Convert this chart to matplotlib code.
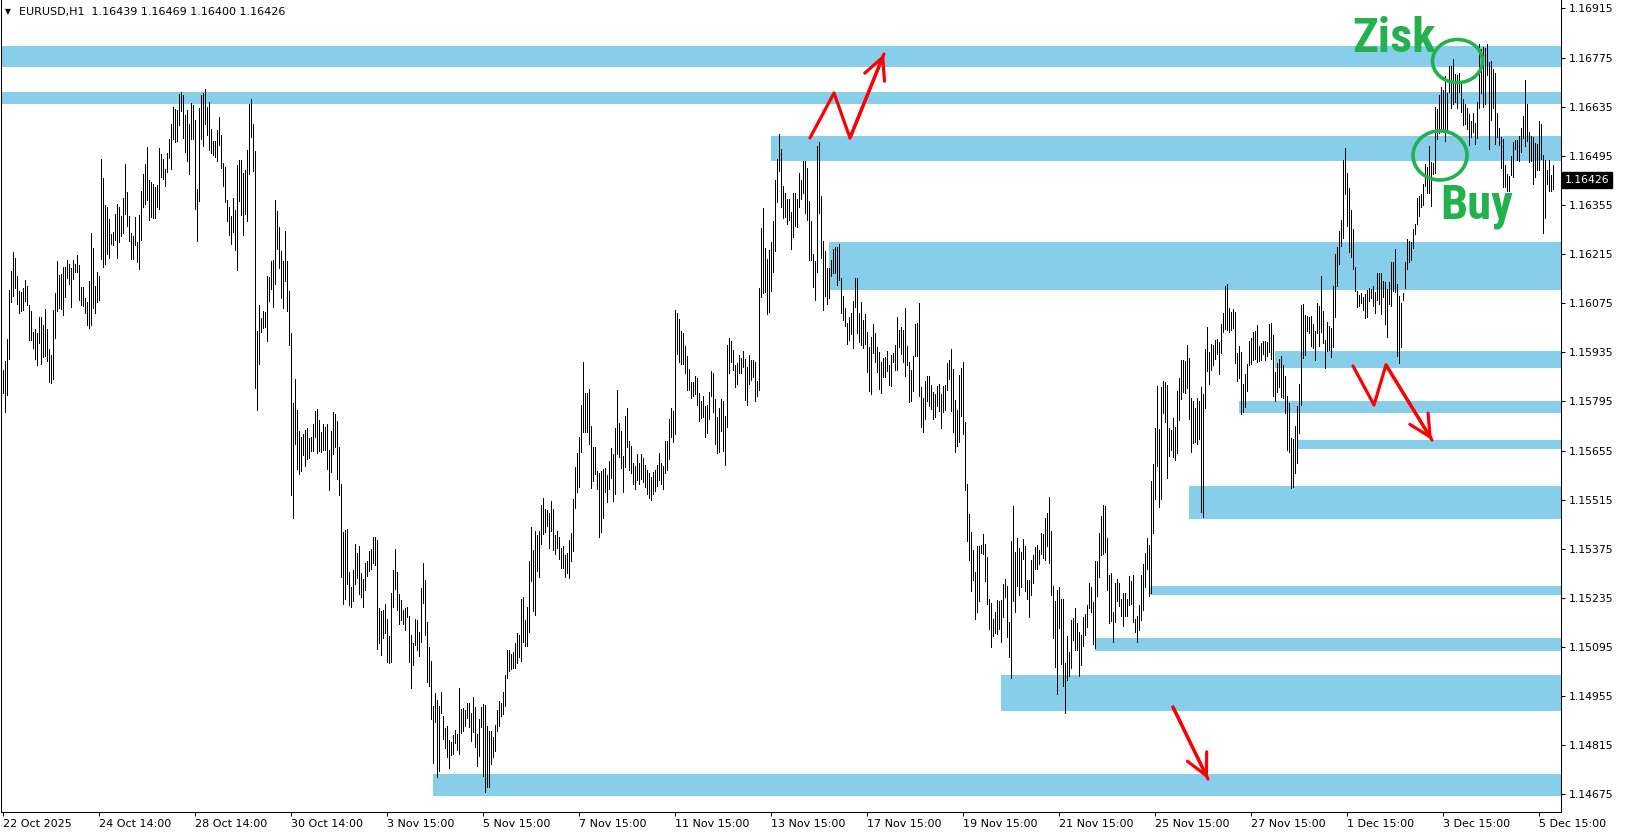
import numpy as np
import matplotlib
matplotlib.use("Agg")
import matplotlib.pyplot as plt
from matplotlib.patches import Ellipse
from matplotlib import font_manager

# EURUSD H1 bars, values in points above 1.14000 (1 point = 0.00001)
highs_pts = [
    1886, 1911, 1972, 2112, 2167, 2221, 2204, 2152, 2110, 2106,
    2119, 2141, 2123, 2069, 2052, 1993, 2001, 1990, 2036, 2036,
    2013, 2058, 2001, 1945, 1928, 2056, 2104, 2195, 2156, 2158,
    2179, 2178, 2197, 2188, 2174, 2197, 2187, 2212, 2185, 2122,
    2121, 2090, 2078, 2138, 2274, 2233, 2123, 2163, 2153, 2485,
    2431, 2354, 2349, 2314, 2273, 2278, 2330, 2357, 2348, 2324,
    2374, 2473, 2393, 2323, 2274, 2266, 2320, 2248, 2326, 2395,
    2443, 2471, 2520, 2426, 2420, 2414,
    2407, 2412, 2518, 2500, 2486, 2458, 2502, 2543, 2586, 2633,
    2629, 2626, 2671, 2676, 2669, 2612, 2626, 2586, 2645, 2640,
    2597, 2401, 2632, 2669, 2673, 2686, 2635, 2648, 2572, 2538,
    2538, 2569, 2605, 2555, 2474, 2464, 2369, 2350, 2324, 2374,
    2341, 2469, 2483, 2483, 2447, 2455, 2512, 2643, 2657, 2586,
    2510, 1996, 2070, 2034, 2053, 2049, 2153, 2151, 2195, 2198,
    2369, 2338, 2291, 2225, 2196, 2282, 2196, 2110, 1989, 1790,
    1859, 1771, 1712, 1695, 1702, 1714, 1719, 1692, 1695, 1731,
    1769, 1773, 1742, 1709, 1731, 1721, 1731, 1656, 1712, 1764,
    1759, 1739, 1666, 1560, 1424, 1429, 1431, 1310, 1265, 1315,
    1388, 1364, 1384, 1307, 1289, 1336, 1340, 1369, 1374, 1408,
    1410, 1400, 1205, 1199, 1202, 1218, 1175, 1126, 1250, 1315,
    1374, 1310, 1246, 1229, 1202, 1207, 1208, 1183, 1129, 1106,
    1175, 1172, 1139, 1264, 1334, 1286, 1167, 1096, 1055, 927,
    965, 944, 927, 966, 898, 865, 871, 830, 825, 844,
    859, 847, 977, 918, 920, 916, 937, 937,
    908, 952, 925, 847, 890, 925, 933, 930, 870, 856,
    857, 838, 873, 916, 940, 937, 968, 1016, 1087, 1087,
    1075, 1082, 1106, 1134, 1130, 1232, 1237, 1172, 1208, 1340,
    1436, 1372, 1426, 1415, 1426, 1500, 1521, 1489, 1486, 1478,
    1511, 1489, 1413, 1426, 1410, 1377, 1384, 1356, 1362, 1400,
    1419, 1517, 1607, 1647, 1693, 1785, 1907, 1820, 1818, 1831,
    1726, 1666, 1666, 1598, 1592, 1597, 1602, 1605, 1586, 1624,
    1662, 1645, 1719, 1828, 1733, 1711, 1640, 1754,
    1777, 1682, 1667, 1620, 1610, 1645, 1620, 1645, 1635, 1615,
    1600, 1590, 1580, 1595, 1600, 1615, 1648, 1620, 1610, 1683,
    1683, 1744, 1777, 1767, 2055, 2047, 2029, 1995, 1990, 1952,
    1924, 1887, 1851, 1849, 1867, 1863, 1818, 1796, 1810, 1781,
    1784, 1822, 1882, 1876, 1801, 1751, 1777, 1801, 1797, 1754,
    1955, 1976, 1967, 1941, 1900, 1905, 1927, 1920, 1939, 1915,
    1892, 1927, 1913, 1913, 1908, 1853, 2119, 2290, 2347, 2233,
    2200, 2226, 2248, 2310, 2426, 2485, 2557,
    2514, 2408, 2390, 2373, 2373, 2335, 2388, 2389, 2371, 2446,
    2426, 2480, 2481, 2461, 2366, 2310, 2215, 2195, 2522, 2533,
    2380, 2252, 2223, 2176, 2176, 2198, 2229, 2234, 2236, 2243,
    2147, 2095, 2062, 2019, 2036, 2047, 2081, 2147, 2147, 2046,
    2077, 2027, 2044, 1993, 1949, 1979, 2015, 1990, 1949, 1936,
    1906, 1920, 1922, 1939, 1898, 1927, 1934, 1955, 2036, 2000,
    2008, 1998, 2062, 1952, 1906, 1884, 1925, 2015, 2019, 2076,
    1837, 1806, 1854, 1867, 1867, 1841, 1822, 1816,
    1838, 1846, 1816, 1838, 1841, 1905, 1913, 1945, 1887, 1800,
    1770, 1870, 1891, 1906, 1737, 1559, 1474, 1423, 1371, 1309,
    1382, 1383, 1385, 1417, 1388, 1352, 1233, 1221, 1176, 1195,
    1229, 1227, 1229, 1274, 1290, 1268, 1167, 1397, 1496, 1366,
    1407, 1378, 1366, 1402, 1382, 1286, 1287, 1343, 1357, 1381,
    1385, 1373, 1420, 1417, 1463, 1477, 1523, 1425, 1268, 1227,
    1257, 1265, 1231, 1231, 1051, 1126, 1081, 1173, 1178, 1207,
    1164, 1138, 1129, 1181, 1189, 1214, 1279,
    1265, 1224, 1340, 1340, 1421, 1468, 1501, 1497, 1407, 1300,
    1305, 1194, 1279, 1289, 1279, 1232, 1248, 1248, 1232, 1297,
    1283, 1300, 1175, 1184, 1215, 1300, 1333, 1362, 1407, 1386,
    1568, 1618, 1718, 1839, 1716, 1835, 1854, 1849, 1842, 1718,
    1713, 1749, 1721, 1825, 1863, 1913, 1913, 1910, 1956, 1918,
    1804, 1796, 1775, 1806, 1796, 1835, 1816, 1944, 2006, 1935,
    1960, 1957, 1970, 1973, 1963, 2017, 2046, 2124, 2129, 2060,
    2051, 2058, 2049, 1932, 1953, 1935, 1846,
    1872, 1902, 1967, 1975, 1994, 1997, 2013, 1953, 1961, 1967,
    1967, 1965, 2015, 2018, 1984, 1878, 1905, 1916, 1924, 1899,
    1868, 1810, 1790, 1690, 1688, 1726, 1782, 1844, 2070, 2072,
    2041, 2039, 2035, 2039, 2016, 1997, 2075, 2068, 2153, 2054,
    1970, 2020, 2010, 2003, 2125, 2215, 2234, 2281, 2312, 2483,
    2516, 2447, 2402, 2341, 2286, 2179, 2110, 2098, 2103, 2092,
    2100, 2113, 2119, 2115, 2124, 2106, 2160, 2162, 2160, 2138,
    2136, 2114, 2136, 2193, 2191, 2229, 2130, 2095,
    2076, 2105, 2193, 2257, 2253, 2250, 2286, 2300, 2375, 2381,
    2386, 2416, 2473, 2463, 2523, 2476, 2475, 2633, 2628, 2668,
    2692, 2682, 2723, 2674, 2751, 2751, 2770, 2728, 2725, 2730,
    2701, 2658, 2644, 2632, 2614, 2594, 2616, 2589, 2649, 2813,
    2799, 2806, 2801, 2813, 2763, 2766, 2742, 2730, 2616, 2575,
    2549, 2544, 2468, 2443, 2438, 2494, 2535, 2540, 2540, 2551,
    2573, 2608, 2712, 2642, 2563, 2551, 2549, 2532, 2530, 2594,
    2585, 2497, 2483, 2454, 2483, 2440, 2469,
]

lows_pts = [
    1818, 1765, 1813, 1917, 2079, 2096, 2117, 2072, 2046, 2053,
    2057, 2082, 2069, 1971, 1971, 1948, 1915, 1898, 1962, 1901,
    1922, 1924, 1911, 1851, 1848, 1859, 1976, 2053, 2060, 2058,
    2041, 2093, 2148, 2131, 2064, 2145, 2164, 2164, 2083, 2069,
    2067, 2048, 2013, 2005, 2013, 2060, 2047, 2079, 2083, 2202,
    2177, 2188, 2215, 2205, 2243, 2240, 2256, 2204, 2248, 2267,
    2274, 2329, 2295, 2252, 2202, 2202, 2242, 2193, 2171, 2256,
    2348, 2357, 2370, 2312, 2321, 2318,
    2319, 2350, 2344, 2436, 2429, 2410, 2448, 2490, 2458, 2543,
    2534, 2536, 2583, 2624, 2545, 2507, 2480, 2443, 2543, 2543,
    2344, 2251, 2366, 2543, 2524, 2586, 2555, 2512, 2502, 2496,
    2491, 2479, 2526, 2461, 2410, 2362, 2309, 2268, 2244, 2279,
    2227, 2170, 2365, 2325, 2268, 2329, 2309, 2443, 2550, 2453,
    1834, 1771, 1902, 1994, 2005, 2008, 1966, 2081, 2116, 2063,
    2130, 2230, 2176, 2091, 2062, 2138, 2053, 1956, 1527, 1464,
    1674, 1603, 1588, 1598, 1641, 1612, 1631, 1633, 1655, 1655,
    1694, 1647, 1655, 1652, 1656, 1656, 1602, 1542, 1595, 1645,
    1666, 1574, 1528, 1295, 1218, 1232, 1275, 1215, 1210, 1227,
    1275, 1291, 1246, 1239, 1210, 1258, 1297, 1313, 1317, 1336,
    1329, 1089, 1106, 1072, 1122, 1136, 1053, 1049, 1053, 1210,
    1260, 1201, 1161, 1172, 1161, 1144, 1182, 1053, 977, 1044,
    1101, 1087, 1070, 1110, 1221, 1129, 996, 985, 890, 765,
    882, 726, 743, 906, 832, 806, 783, 749, 787, 789,
    822, 803, 790, 849, 856, 871, 892, 866,
    828, 854, 809, 757, 786, 866, 728, 683, 695, 695,
    761, 783, 800, 857, 871, 900, 904, 928, 1006, 1028,
    1033, 1035, 1035, 1049, 1066, 1054, 1109, 1099, 1099, 1137,
    1284, 1199, 1187, 1313, 1296, 1388, 1416, 1424, 1441, 1378,
    1427, 1372, 1360, 1377, 1346, 1320, 1321, 1294, 1305, 1291,
    1341, 1370, 1491, 1536, 1552, 1650, 1709, 1709, 1707, 1673,
    1549, 1569, 1588, 1546, 1410, 1424, 1462, 1538, 1508, 1546,
    1576, 1510, 1531, 1645, 1636, 1606, 1538, 1607,
    1665, 1600, 1590, 1560, 1545, 1570, 1560, 1575, 1565, 1550,
    1530, 1520, 1515, 1530, 1540, 1555, 1570, 1560, 1545, 1590,
    1600, 1630, 1694, 1680, 1701, 1930, 1908, 1903, 1903, 1877,
    1827, 1827, 1805, 1811, 1816, 1784, 1740, 1749, 1751, 1694,
    1706, 1744, 1810, 1765, 1673, 1647, 1651, 1711, 1654, 1615,
    1723, 1876, 1906, 1886, 1837, 1844, 1877, 1877, 1892, 1800,
    1784, 1844, 1856, 1865, 1797, 1810, 1827, 2093, 2103, 2107,
    2043, 2050, 2110, 2164, 2224, 2362, 2452,
    2348, 2319, 2321, 2302, 2313, 2228, 2264, 2294, 2292, 2350,
    2373, 2388, 2331, 2313, 2199, 2199, 2120, 2085, 2164, 2333,
    2205, 2057, 2095, 2074, 2091, 2153, 2161, 2161, 2126, 2141,
    2046, 2028, 2010, 1960, 1971, 1987, 1946, 2063, 1989, 1965,
    1955, 1946, 1960, 1879, 1825, 1815, 1933, 1908, 1879, 1830,
    1820, 1865, 1865, 1882, 1841, 1839, 1906, 1886, 1884, 1949,
    1930, 1906, 1867, 1898, 1792, 1797, 1825, 1924, 1925, 1811,
    1721, 1708, 1746, 1797, 1782, 1773, 1746, 1751,
    1781, 1768, 1720, 1765, 1770, 1827, 1860, 1768, 1708, 1651,
    1668, 1680, 1754, 1702, 1542, 1398, 1343, 1255, 1286, 1174,
    1195, 1227, 1364, 1360, 1284, 1217, 1146, 1096, 1127, 1134,
    1132, 1146, 1110, 1181, 1238, 1124, 1067, 1007, 1227, 1195,
    1268, 1243, 1265, 1347, 1255, 1233, 1181, 1243, 1278, 1317,
    1317, 1333, 1360, 1350, 1344, 1382, 1335, 1243, 1121, 1039,
    961, 1150, 1048, 983, 907, 1000, 1013, 1036, 1114, 1088,
    1086, 1012, 1043, 1097, 1129, 1152, 1205,
    1196, 1105, 1091, 1241, 1295, 1357, 1360, 1367, 1257, 1164,
    1170, 1110, 1167, 1226, 1213, 1184, 1156, 1184, 1184, 1215,
    1219, 1167, 1139, 1110, 1143, 1172, 1200, 1267, 1317, 1241,
    1248, 1421, 1517, 1612, 1495, 1517, 1763, 1737, 1577, 1640,
    1656, 1637, 1628, 1649, 1742, 1802, 1821, 1818, 1832, 1745,
    1652, 1677, 1678, 1673, 1687, 1481, 1466, 1777, 1882, 1844,
    1884, 1899, 1916, 1930, 1873, 1934, 1994, 2001, 1998, 1994,
    2000, 2003, 1905, 1853, 1862, 1759, 1766,
    1780, 1826, 1899, 1902, 1913, 1916, 1908, 1911, 1913, 1929,
    1913, 1924, 1935, 1916, 1810, 1797, 1821, 1835, 1807, 1804,
    1763, 1658, 1652, 1547, 1552, 1590, 1619, 1704, 1785, 1918,
    1927, 1996, 1989, 1953, 1946, 1913, 1989, 1954, 1994, 1961,
    1889, 1940, 1942, 1923, 1951, 2035, 2125, 2187, 2239, 2260,
    2386, 2296, 2222, 2206, 2172, 2111, 2065, 2068, 2075, 2057,
    2032, 2035, 2082, 2089, 2068, 2046, 2084, 2073, 2044, 2094,
    2016, 1980, 2073, 2068, 2111, 2106, 1924, 1905,
    1950, 2083, 2117, 2171, 2191, 2197, 2231, 2273, 2302, 2324,
    2350, 2354, 2408, 2390, 2390, 2352, 2443, 2445, 2544, 2559,
    2568, 2563, 2538, 2568, 2677, 2630, 2642, 2647, 2630, 2677,
    2620, 2582, 2585, 2570, 2527, 2549, 2563, 2528, 2547, 2630,
    2673, 2633, 2644, 2725, 2513, 2597, 2630, 2528, 2549, 2525,
    2459, 2407, 2405, 2395, 2395, 2440, 2435, 2514, 2483, 2481,
    2506, 2547, 2522, 2538, 2478, 2481, 2414, 2435, 2454, 2454,
    2487, 2276, 2319, 2414, 2395, 2395, 2400,
]

time_labels = ["22 Oct 2025", "24 Oct 14:00", "28 Oct 14:00", "30 Oct 14:00",
               "3 Nov 15:00", "5 Nov 15:00", "7 Nov 15:00", "11 Nov 15:00",
               "13 Nov 15:00", "17 Nov 15:00", "19 Nov 15:00", "21 Nov 15:00",
               "25 Nov 15:00", "27 Nov 15:00", "1 Dec 15:00", "3 Dec 15:00",
               "5 Dec 15:00"]

# support / resistance zones: price range and first bar
zone_low = [1.16748, 1.16643, 1.16479, 1.16112, 1.15890, 1.15762,
            1.15659, 1.15461, 1.15244, 1.15084, 1.14912, 1.14671]
zone_high = [1.16809, 1.16677, 1.16551, 1.16249, 1.15939, 1.15796,
             1.15685, 1.15555, 1.15270, 1.15121, 1.15014, 1.14732]
zone_start = [-1, -1, 384, 413, 636, 618, 647, 593, 573, 546, 499, 215]

header = "EURUSD,H1  1.16439 1.16469 1.16400 1.16426"
last_close = 1.16426

highs = 1.14 + np.array(highs_pts) / 1e5
lows = 1.14 + np.array(lows_pts) / 1e5
x = np.arange(len(highs))

# pick a narrow bold face for the hand-written labels if one is installed
names = {f.name for f in font_manager.fontManager.ttflist}
narrow = None
for cand in ["Liberation Sans Narrow", "Roboto Condensed", "Open Sans Condensed",
             "DejaVu Sans Condensed", "Noto Sans Condensed"]:
    if cand in names:
        narrow = cand
        break
if narrow is None:
    label_font = dict(family="DejaVu Sans", fontsize=30)
else:
    label_font = dict(family=narrow, fontsize=35)

W, H = 1625, 838
fig = plt.figure(figsize=(W / 100, H / 100), dpi=100)
ax = fig.add_axes([1 / W, (H - 812) / H, 1560 / W, 812 / H])
ax.set_xlim(-1, 779)
ax.set_ylim(1.14625, 1.16939)

zone_col = "#87CEEB"
for lo, hi, s in zip(zone_low, zone_high, zone_start):
    ax.fill_between([s, 779], lo, hi, color=zone_col, lw=0, zorder=1)

ax.vlines(x, lows, highs, colors="black", linewidth=0.55, antialiased=False, zorder=3)

# red hand-drawn arrows
red_paths = [
    [(403.5, 1.16546), (415.5, 1.16674), (423.5, 1.16546), (440.5, 1.16785)],
    [(675, 1.15896), (685.5, 1.15785), (691.5, 1.15899), (714.5, 1.15685)],
    [(585, 1.14924), (602.5, 1.14719)],
]
for pts in red_paths:
    xs = [p[0] for p in pts]
    ys = [p[1] for p in pts]
    ax.plot(xs, ys, color="red", lw=2.3,
            solid_capstyle="round", solid_joinstyle="round", zorder=5)
    ax.annotate("", xy=pts[-1], xytext=pts[-2],
                arrowprops=dict(arrowstyle="->,head_length=0.7,head_width=0.35",
                                color="red", lw=2.3, shrinkA=0, shrinkB=0,
                                mutation_scale=22), zorder=5)

green = "#22B14C"
ax.add_patch(Ellipse((727.25, 1.16765), 25, 0.00123, fill=False, ec=green, lw=2.6, zorder=6))
ax.add_patch(Ellipse((718.5, 1.16496), 27, 0.0014, fill=False, ec=green, lw=2.6, zorder=6))
ax.text(674.5, 1.16791, "Zisk", color=green, fontweight="bold",
        ha="left", va="baseline", zorder=6, **label_font)
ax.text(718.5, 1.16315, "Buy", color=green, fontweight="bold",
        ha="left", va="baseline", zorder=6, **label_font)

# axes look like the terminal window
for side in ["left", "right", "bottom"]:
    ax.spines[side].set_linewidth(0.75)
    ax.spines[side].set_color("black")
ax.spines["top"].set_visible(False)

ax.yaxis.tick_right()
yt = 1.14675 + 0.0014 * np.arange(17)
ax.set_yticks(yt)
ax.set_yticklabels([f"{v:.5f}" for v in yt])
ax.tick_params(axis="y", direction="out", length=3, width=0.75, pad=2.5, labelsize=7.8)

ax.set_xticks(np.arange(0, len(x), 48))
ax.set_xticklabels(time_labels, ha="left")
ax.tick_params(axis="x", direction="out", length=3, width=0.75, pad=2, labelsize=8)

ax.annotate(f"{last_close:.5f}", xy=(1, last_close), xycoords=("axes fraction", "data"),
            xytext=(4, 0), textcoords="offset pixels", ha="left", va="center",
            color="white", fontsize=7.8, annotation_clip=False,
            bbox=dict(boxstyle="square,pad=0.25", fc="black", ec="black"))

fig.text(5 / W, 1 - 12 / H, "\u25bc", fontsize=5.5, va="center", ha="left")
fig.text(19 / W, 1 - 12 / H, header, fontsize=8, va="center", ha="left")

fig.savefig("out.png", dpi=100, facecolor="white")
